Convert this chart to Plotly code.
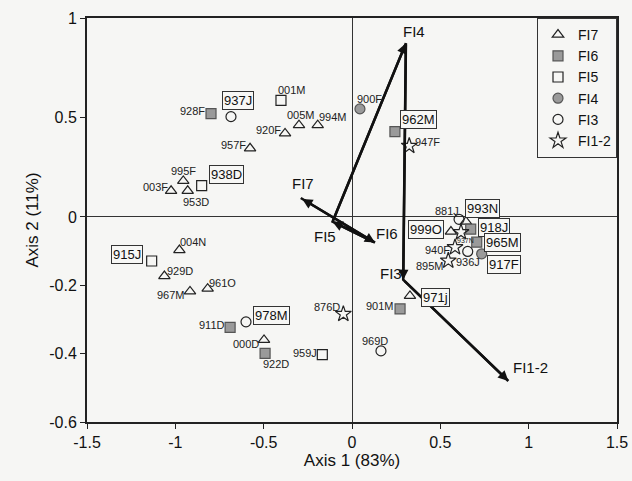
import plotly.graph_objects as go

# ---------------- data (values read in the axis-label units) ----------------
FI7_names = ["005M", "994M", "920F", "957F", "995F", "003F", "953D", "004N", "929D",
             "967M", "961O", "000D", "993N", "999O", "971j"]
FI7_x = [-0.30, -0.194, -0.379, -0.577, -0.955, -1.024, -0.93, -0.977, -1.062,
         -0.917, -0.817, -0.498, 0.645, 0.56, 0.328]
FI7_y = [0.461, 0.461, 0.42, 0.345, 0.181, 0.131, 0.131, -0.097, -0.173,
         -0.218, -0.21, -0.36, -0.014, -0.043, -0.231]

FI6_names = ["928F", "962M", "911D", "922D", "918J", "965M", "901M"]
FI6_x = [-0.798, 0.243, -0.69, -0.492, 0.672, 0.706, 0.272]
FI6_y = [0.519, 0.429, -0.323, -0.399, -0.036, -0.074, -0.269]

FI5_names = ["001M", "938D", "915J", "959J"]
FI5_x = [-0.402, -0.851, -1.134, -0.168]
FI5_y = [0.586, 0.157, -0.129, -0.403]

FI4_names = ["900F", "917F"]
FI4_x = [0.045, 0.734]
FI4_y = [0.543, -0.108]

FI3_names = ["937J", "978M", "881J", "936J", "969D"]
FI3_x = [-0.685, -0.60, 0.606, 0.655, 0.164]
FI3_y = [0.504, -0.307, -0.007, -0.101, -0.392]

FI12_names = ["947F", "876D", "940F", "895M", "937N"]
FI12_x = [0.324, -0.049, 0.583, 0.545, 0.617]
FI12_y = [0.357, -0.284, -0.089, -0.128, -0.045]

# group centroids (trajectory)
cent_names = ["FI7", "FI6", "FI5", "FI4", "FI3", "FI1-2"]
cent_x = [-0.29, 0.13, -0.11, 0.305, 0.29, 0.885]
cent_y = [0.095, -0.075, -0.014, 0.873, -0.184, -0.48]

y_tick_labels = ["1", "0.5", "0", "-0.2", "-0.4", "-0.6"]
y_tick_values = [1.0, 0.5, 0.0, -0.2, -0.4, -0.6]
x_tick_values = [-1.5, -1, -0.5, 0, 0.5, 1, 1.5]
x_tick_labels = ["-1.5", "-1", "-0.5", "0", "0.5", "1", "1.5"]

# ---------------- styling / positions ----------------
UP = 199.0 / 342.0  # the printed y axis is stretched differently above zero


def ty(v):
    return v * UP if v >= 0 else v


BOXED = {"937J", "938D", "962M", "915J", "978M", "993N", "999O", "918J",
         "965M", "917F", "971j"}
# label centre offsets in pixels (dx right, dy down)
OFF = {
    "937J": (7, -16), "928F": (-19, -3), "001M": (11, -10), "005M": (2, -10),
    "994M": (15, -8), "920F": (-17, -3), "957F": (-17, -3), "995F": (0, -10),
    "003F": (-16, -4), "953D": (8, 11), "938D": (25, -11), "900F": (10, -10),
    "962M": (24, -12), "947F": (18, -4), "915J": (-25, -7), "004N": (14, -8),
    "929D": (16, -5), "967M": (-19, 4), "961O": (15, -6), "978M": (25, -6),
    "911D": (-18, -2), "000D": (-18, 4), "922D": (11, 11), "959J": (-17, -2),
    "876D": (-16, -7), "881J": (-12, -8), "993N": (17, -13), "999O": (-25, -2),
    "918J": (23, -2), "965M": (26, 0), "940F": (-18, 3), "936J": (0, 11),
    "917F": (22, 11), "895M": (-18, 5), "971j": (26, 2), "901M": (-20, -3),
    "969D": (-6, -10), "937N": (4, 8),
}
CENT_OFF = {"FI7": (2, -15), "FI6": (12, -9), "FI5": (-8, 15), "FI4": (8, -12),
            "FI3": (-12, -6), "FI1-2": (22, -13)}

LINE = "#222222"
GRAY = "#9a9a9a"
NARROW = "Liberation Sans Narrow, Arial Narrow, Liberation Sans, Arial"
SANS = "Liberation Sans, Arial, sans-serif"

groups = [
    ("FI7", FI7_names, FI7_x, FI7_y, dict(symbol="triangle-up-open", size=10, color=LINE, line=dict(width=1.2, color=LINE))),
    ("FI6", FI6_names, FI6_x, FI6_y, dict(symbol="square", size=10, color=GRAY, line=dict(width=1.2, color="#555555"))),
    ("FI5", FI5_names, FI5_x, FI5_y, dict(symbol="square-open", size=10, color=LINE, line=dict(width=1.2, color=LINE))),
    ("FI4", FI4_names, FI4_x, FI4_y, dict(symbol="circle", size=10, color=GRAY, line=dict(width=1.2, color="#555555"))),
    ("FI3", FI3_names, FI3_x, FI3_y, dict(symbol="circle-open", size=10, color=LINE, line=dict(width=1.2, color=LINE))),
    ("FI1-2", FI12_names, FI12_x, FI12_y, dict(symbol="star-open", size=12, color=LINE, line=dict(width=1.2, color=LINE))),
]

fig = go.Figure()

# trajectory line between centroids
fig.add_trace(go.Scatter(x=cent_x, y=[ty(v) for v in cent_y], mode="lines",
                         line=dict(color="#111111", width=2.6), showlegend=False,
                         hoverinfo="skip"))

for name, names, xs, ys, mk in groups:
    fig.add_trace(go.Scatter(x=xs, y=[ty(v) for v in ys], mode="markers", name=name,
                             marker=mk, text=names, hoverinfo="text"))

annotations = []
# arrowheads on trajectory
segs = [(0, 1, "end+start"), (1, 2, "end"), (2, 3, "end"), (3, 4, "end"), (4, 5, "end")]
for a, b, side in segs:
    annotations.append(dict(x=cent_x[b], y=ty(cent_y[b]), ax=cent_x[a], ay=ty(cent_y[a]),
                            xref="x", yref="y", axref="x", ayref="y", text="",
                            showarrow=True, arrowhead=2, arrowsize=0.85, arrowwidth=2.4,
                            arrowcolor="#111111", arrowside=side))
for n, cx, cy in zip(cent_names, cent_x, cent_y):
    dx, dy = CENT_OFF[n]
    annotations.append(dict(x=cx, y=ty(cy), text=n, showarrow=False, xshift=dx, yshift=-dy,
                            font=dict(family=NARROW, size=15, color="#111111")))

# sample labels
for name, names, xs, ys, mk in groups:
    for n, x, y in zip(names, xs, ys):
        dx, dy = OFF[n]
        if n in BOXED:
            annotations.append(dict(x=x, y=ty(y), text=n, showarrow=False, xshift=dx, yshift=-dy,
                                    font=dict(family=NARROW, size=13, color="#111111"),
                                    bordercolor="#333333", borderwidth=1, borderpad=1,
                                    bgcolor="#f7f7f5"))
        else:
            size = 7 if n == "937N" else 11
            annotations.append(dict(x=x, y=ty(y), text=n, showarrow=False, xshift=dx, yshift=-dy,
                                    font=dict(family=NARROW, size=size, color="#222222")))

fig.update_layout(
    width=632, height=481,
    margin=dict(l=87, r=15, t=18, b=59, autoexpand=False),
    paper_bgcolor="#f6f6f4", plot_bgcolor="#f6f6f4",
    annotations=annotations,
    showlegend=True,
    legend=dict(x=1.0, y=1.0, xanchor="right", yanchor="top",
                bgcolor="#f6f6f4", bordercolor="#333333", borderwidth=1,
                font=dict(family=NARROW, size=14, color="#111111"),
                tracegroupgap=0, itemwidth=30),
    xaxis=dict(range=[-1.5, 1.5], tickvals=x_tick_values, ticktext=x_tick_labels,
               showgrid=False, zeroline=True, zerolinecolor="#333333", zerolinewidth=1,
               showline=True, linecolor="#222222", linewidth=2, mirror=True,
               ticks="outside", ticklen=5, tickcolor="#222222",
               tickfont=dict(family=SANS, size=16, color="#111111"),
               title=dict(text="Axis 1 (83%)", font=dict(family=SANS, size=17, color="#111111"), standoff=4)),
    yaxis=dict(range=[-0.6, UP], tickvals=[ty(v) for v in y_tick_values], ticktext=y_tick_labels,
               showgrid=False, zeroline=True, zerolinecolor="#333333", zerolinewidth=1,
               showline=True, linecolor="#222222", linewidth=2, mirror=True,
               ticks="outside", ticklen=5, tickcolor="#222222",
               tickfont=dict(family=SANS, size=16, color="#111111"),
               title=dict(text="Axis 2 (11%)", font=dict(family=SANS, size=17, color="#111111"), standoff=6)),
)

fig.write_html("out.html")
